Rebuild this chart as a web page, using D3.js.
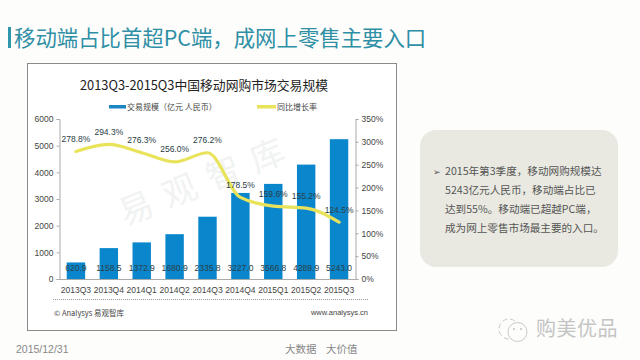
<!DOCTYPE html>
<html>
<head>
<meta charset="utf-8">
<script src="https://cdn.jsdelivr.net/npm/d3@7"></script>
<style>
  html, body { margin: 0; padding: 0; background: #fdfdfc; }
  svg { display: block; font-family: "Noto Sans CJK SC", "Liberation Sans", sans-serif; }
  .axis text { font-family: "Liberation Sans", sans-serif; font-size: 8.5px; fill: #444; }
  .axis path, .axis line { stroke: #aaa; }
</style>
</head>
<body>
<div id="chart"></div>
<script>
const quarters = ["2013Q3", "2013Q4", "2014Q1", "2014Q2", "2014Q3", "2014Q4", "2015Q1", "2015Q2", "2015Q3"];
const volume = [620.9, 1158.5, 1372.9, 1680.9, 2335.8, 3227.0, 3566.8, 4289.9, 5243.0];
const growth = [278.8, 294.3, 276.3, 256.0, 276.2, 178.5, 159.6, 155.2, 124.5];
const volumeTicks = [0, 1000, 2000, 3000, 4000, 5000, 6000];
const growthTicks = [0, 50, 100, 150, 200, 250, 300, 350];
const panelLines = ["2015年第3季度，移动网购规模达", "5243亿元人民币，移动端占比已", "达到55%。移动端已超越PC端，", "成为网上零售市场最主要的入口。"];

const svg = d3.select("#chart").append("svg").attr("width", 640).attr("height", 360);

// Slide title
svg.append("rect").attr("x", 8).attr("y", 27).attr("width", 3).attr("height", 21).attr("fill", "#2f97ad");
svg.append("text").attr("x", 14).attr("y", 46).attr("font-size", 21.4).attr("fill", "#2f8fa5")
  .text("移动端占比首超PC端，成网上零售主要入口");

// Chart frame
svg.append("rect").attr("x", 27.5).attr("y", 63.5).attr("width", 369).attr("height", 267)
  .attr("fill", "#fff").attr("stroke", "#8a8a8a");

svg.append("text").attr("x", 204).attr("y", 89.5).attr("text-anchor", "middle")
  .attr("font-size", 12.8).attr("fill", "#222").text("2013Q3-2015Q3中国移动网购市场交易规模");

// Watermark
svg.append("text").attr("transform", "translate(125,226) rotate(-22)")
  .attr("font-size", 34).attr("fill", "#f1f3f3").attr("letter-spacing", 13).text("易观智库");

// Scales
const x = d3.scaleBand().domain(quarters).range([59.5, 355.5]).paddingInner(0.44).paddingOuter(0.22);
const y = d3.scaleLinear().domain([0, 6000]).range([279, 119]);
const yRight = d3.scaleLinear().domain([0, 350]).range([279, 119]);
const cx = (q) => x(q) + x.bandwidth() / 2;

// Bars
svg.selectAll("rect.bar").data(quarters).enter().append("rect")
  .attr("class", "bar")
  .attr("x", (d) => x(d))
  .attr("width", x.bandwidth())
  .attr("y", (d, i) => y(volume[i]))
  .attr("height", (d, i) => y(0) - y(volume[i]))
  .attr("fill", "#0a87cc");

// Axes
svg.append("g").attr("class", "axis").attr("transform", "translate(59.5,0)")
  .call(d3.axisLeft(y).tickValues(volumeTicks).tickFormat(d3.format("d")).tickSize(3).tickSizeOuter(3));
svg.append("g").attr("class", "axis").attr("transform", "translate(355.5,0)")
  .call(d3.axisRight(yRight).tickValues(growthTicks).tickFormat((d) => d + "%").tickSize(3).tickSizeOuter(3));
const xAxis = svg.append("g").attr("class", "axis").attr("transform", "translate(0,279)")
  .call(d3.axisBottom(x).tickSize(0));
xAxis.selectAll("text").attr("y", 8);

// Growth line
const line = d3.line().x((d, i) => cx(quarters[i])).y((d) => yRight(d)).curve(d3.curveMonotoneX);
svg.append("path").datum(growth).attr("d", line).attr("fill", "none")
  .attr("stroke", "#e8e35a").attr("stroke-width", 3.2).attr("stroke-linecap", "round");

// Bar and line labels
svg.selectAll("text.vol").data(volume).enter().append("text")
  .attr("class", "vol").attr("x", (d, i) => cx(quarters[i])).attr("y", 271)
  .attr("text-anchor", "middle").attr("font-family", "Liberation Sans").attr("font-size", 8.5).attr("fill", "#2c3e46")
  .text((d) => d.toFixed(1));
svg.selectAll("text.gr").data(growth).enter().append("text")
  .attr("class", "gr").attr("x", (d, i) => cx(quarters[i])).attr("y", (d) => yRight(d) - 9.5)
  .attr("text-anchor", "middle").attr("font-family", "Liberation Sans").attr("font-size", 8.5).attr("fill", "#2c3e46")
  .text((d) => d.toFixed(1) + "%");

// Legend
svg.append("rect").attr("x", 109).attr("y", 105).attr("width", 17).attr("height", 3.5).attr("fill", "#1a85c0");
svg.append("text").attr("x", 127).attr("y", 110).attr("font-size", 8).attr("fill", "#444").text("交易规模（亿元 人民币）");
svg.append("rect").attr("x", 257).attr("y", 105).attr("width", 19).attr("height", 3.5).attr("fill", "#e8e35a");
svg.append("text").attr("x", 277).attr("y", 110).attr("font-size", 8).attr("fill", "#444").text("同比增长率");

// Source row
svg.append("line").attr("x1", 53).attr("x2", 369).attr("y1", 299.5).attr("y2", 299.5)
  .attr("stroke", "#999").attr("stroke-dasharray", "1,1");
svg.append("text").attr("x", 54).attr("y", 316).attr("font-size", 7.5).attr("fill", "#444").text("© Analysys 易观智库");
svg.append("text").attr("x", 368).attr("y", 315).attr("text-anchor", "end").attr("font-family", "Liberation Sans")
  .attr("font-size", 7.5).attr("fill", "#444").text("www.analysys.cn");

// Side panel
svg.append("rect").attr("x", 420).attr("y", 130).attr("width", 198).attr("height", 137).attr("rx", 16)
  .attr("fill", "#e9e9e1");
svg.append("text").attr("x", 433).attr("y", 175).attr("font-size", 9).attr("fill", "#555").text("➢");
svg.selectAll("text.panel").data(panelLines).enter().append("text")
  .attr("class", "panel").attr("x", 445).attr("y", (d, i) => 175 + i * 19)
  .attr("font-size", 10.6).attr("fill", "#555").text((d) => d);

// Footer
svg.append("text").attr("x", 16).attr("y", 352.5).attr("font-family", "Liberation Sans").attr("font-size", 10.5).attr("fill", "#888").text("2015/12/31");
svg.append("text").attr("x", 285).attr("y", 353).attr("font-size", 10.5).attr("fill", "#888").text("大数据");
svg.append("text").attr("x", 326).attr("y", 353).attr("font-size", 10.5).attr("fill", "#888").text("大价值");

// WeChat-style mark and account name
const mark = svg.append("g").attr("fill", "none").attr("stroke", "#c9c9c9").attr("stroke-width", 1);
mark.append("circle").attr("cx", 509).attr("cy", 329).attr("r", 10).attr("stroke-dasharray", "5,3");
mark.append("circle").attr("cx", 517.5).attr("cy", 332).attr("r", 9.5).attr("fill", "#fdfdfc");
mark.append("circle").attr("cx", 514).attr("cy", 329).attr("r", 0.7).attr("fill", "#c9c9c9");
mark.append("circle").attr("cx", 521).attr("cy", 329).attr("r", 0.7).attr("fill", "#c9c9c9");
svg.append("text").attr("x", 536).attr("y", 336).attr("font-size", 20).attr("fill", "#c4c4c4").attr("letter-spacing", 0.5).text("购美优品");
</script>
</body>
</html>
